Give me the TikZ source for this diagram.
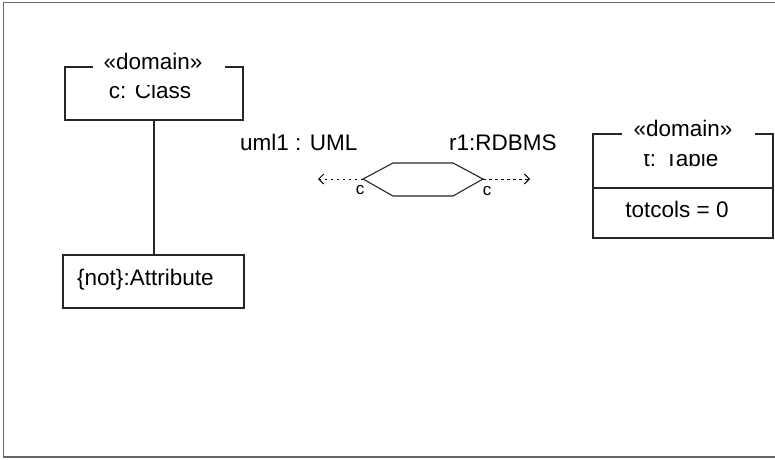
\documentclass[tikz,border=0pt]{standalone}
\usepackage{fontspec}
\setmainfont{Liberation Sans}
\usetikzlibrary{arrows.meta}
\tikzset{
  boxline/.style={draw=black!85, line width=1.1pt},
  boxtext/.style={inner sep=0pt, font=\fontsize{22.5}{26}\selectfont, anchor=base},
  labeltext/.style={inner sep=0pt, font=\fontsize{22.5}{26}\selectfont, anchor=base west},
  ctext/.style={inner sep=0pt, font=\fontsize{17}{20}\selectfont},
  dashlink/.style={draw=black, line width=0.9pt, dash pattern=on 2.5pt off 3.5pt, -{Straight Barb[length=5pt,width=10pt,line width=0.9pt]}}
}
\begin{document}
\begin{tikzpicture}[x=1pt,y=-1pt]
\useasboundingbox (0,0) rectangle (775,459);
% frame
\draw[draw=black!60, line width=1.5pt] (780,2.5) -- (3.5,2.5) -- (3.5,457) -- (780,457);

% Class box
\coordinate (cA) at (93,67);
\coordinate (cB) at (225,67);
\draw[boxline] (cA) -- (65,67) -- (65,120) -- (243,120) -- (243,67) -- (cB);
\node[boxtext] (cst) at (153,69) {«domain»};
\begin{scope}
\clip (65,85) rectangle (243,120);
\node[boxtext] (cname) at (150,98) {c: Class};
\end{scope}
\coordinate (cbot) at (154,120);

% Attribute box
\node[boxline, minimum width=181pt, minimum height=53pt, inner sep=0pt] (attr) at (153.5,281.5) {};
\node[boxtext, anchor=base west] (attrtext) at (77,285) {\{not\}:Attribute};
\draw[boxline] (cbot) -- (cbot |- attr.north);

% Table box
\coordinate (tA) at (622,134);
\coordinate (tB) at (755,134);
\draw[boxline] (tA) -- (593,134) -- (593,238) -- (773,238) -- (773,134) -- (tB);
\coordinate (tdl) at (593,188);
\coordinate (tdr) at (773,188);
\draw[boxline] (tdl) -- (tdr);
\node[boxtext] (tst) at (683,136) {«domain»};
\begin{scope}
\clip (593,154) rectangle (773,188);
\node[boxtext] (tname) at (681,166) {t: Table};
\end{scope}
\node[boxtext] (tattr) at (677,217) {totcols = 0};

% labels
\node[labeltext] (uml) at (240,150) {uml1 : UML};
\node[labeltext] (rdb) at (449,150) {r1:RDBMS};

% hexagon
\coordinate (hL) at (363,179);
\coordinate (hR) at (483,179);
\draw[boxline, line join=miter] (hL) -- (393,163) -- (453,163) -- (hR) -- (453,196) -- (393,196) -- cycle;
\node[ctext] (cL) at (360,190) {c};
\node[ctext] (cR) at (487,191) {c};

% dashed links
\coordinate (eL) at (318,179);
\coordinate (eR) at (530,179);
\draw[dashlink] (hL) -- (eL);
\draw[dashlink] (hR) -- (eR);
\end{tikzpicture}
\end{document}
